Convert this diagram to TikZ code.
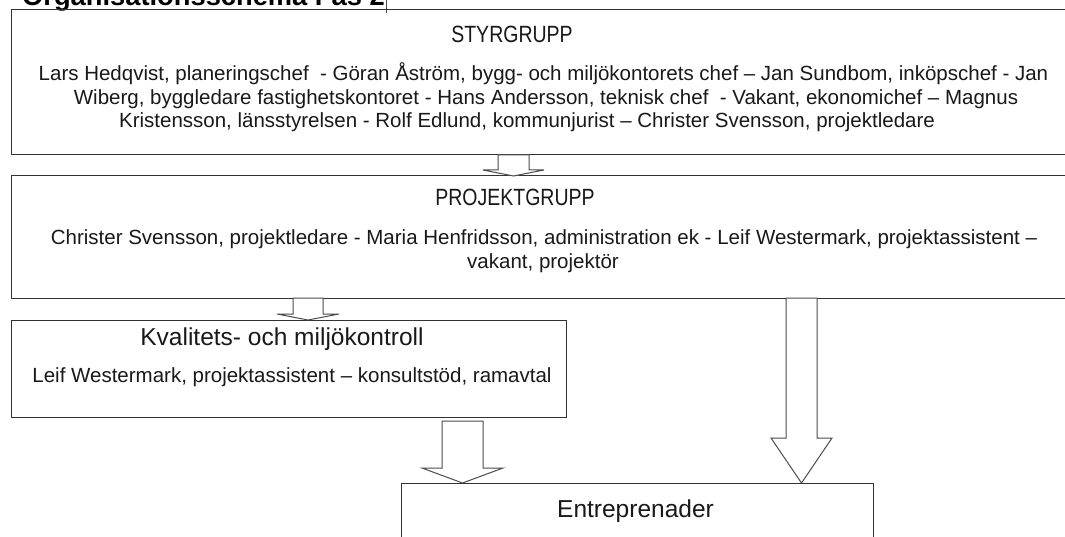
\documentclass[tikz,border=0pt]{standalone}
\usepackage{fontspec}
\setmainfont{Liberation Sans}
\newfontfamily\narrowsans[FakeStretch=0.83]{Liberation Sans}
\usetikzlibrary{calc}
\tikzset{
  box/.style={draw=black!80, line width=1pt, fill=none, inner sep=0pt, outer sep=0pt, anchor=north west},
  barrow/.style={draw=black!70, line width=1pt, fill=white, line join=miter},
  head/.style={anchor=base, text=black!90, font=\narrowsans\fontsize{23.5}{26}\selectfont},
  bighead/.style={anchor=base, text=black!90, font=\fontsize{24.5}{28}\selectfont},
  body/.style={anchor=base, text=black!90, font=\fontsize{20.5}{24}\selectfont},
}
% #1 source node, #2 target node, #3 x centre, #4 half shaft, #5 half head, #6 head length, #7 gap below source
\newcommand\blockarr[7]{%
  \draw[barrow] let \p1=(#1.south), \p2=(#2.north) in
    (#3pt-#4pt,\y1-#7pt) -- (#3pt+#4pt,\y1-#7pt) -- (#3pt+#4pt,\y2+#6pt) -- (#3pt+#5pt,\y2+#6pt)
    -- (#3pt,\y2) -- (#3pt-#5pt,\y2+#6pt) -- (#3pt-#4pt,\y2+#6pt) -- cycle;}
\begin{document}
\begin{tikzpicture}[x=1pt,y=-1pt]
\useasboundingbox (0,0) rectangle (1065,537);
\clip (0,0) rectangle (1065,537);
\fill[white] (0,0) rectangle (1065,537);

% title (cut off at the top, as in the reference)
\node[anchor=base, text=black, font=\bfseries\fontsize{27.3}{30}\selectfont] (title) at (203.5,5.5) {Organisationsschema Fas 2};
\draw[black!70, line width=0.8pt] (386,0) -- (386,13);

% boxes
\node[box, minimum width=1090pt, minimum height=145pt] (styr) at (11,10) {};
\node[box, minimum width=1090pt, minimum height=122pt] (proj) at (11,176) {};
\node[box, minimum width=555pt, minimum height=97pt] (kval) at (11,320) {};
\node[box, minimum width=472pt, minimum height=120pt] (entr) at (401,483) {};

% STYRGRUPP
\node[head] (styrh) at (512,43) {STYRGRUPP};
\node[body] (styr1) at (543.5,81) {Lars Hedqvist, planeringschef\ \ - Göran Åström, bygg- och miljökontorets chef – Jan Sundbom, inköpschef - Jan};
\node[body] (styr2) at (546,105) {Wiberg, byggledare fastighetskontoret - Hans Andersson, teknisk chef\ \ - Vakant, ekonomichef – Magnus};
\node[body] (styr3) at (527,128) {Kristensson, länsstyrelsen - Rolf Edlund, kommunjurist – Christer Svensson, projektledare};

% PROJEKTGRUPP
\node[head] (projh) at (515,206) {PROJEKTGRUPP};
\node[body] (proj1) at (544,245) {Christer Svensson, projektledare - Maria Henfridsson, administration ek - Leif Westermark, projektassistent –};
\node[body] (proj2) at (543,269) {vakant, projektör};

% Kvalitets- och miljökontroll
\node[bighead] (kvalh) at (282,345) {Kvalitets- och miljökontroll};
\node[body] (kval1) at (292,382) {Leif Westermark, projektassistent – konsultstöd, ramavtal};

% Entreprenader
\node[bighead] (entrh) at (635.5,517) {Entreprenader};

% block arrows
\blockarr{styr}{proj}{513.5}{15.5}{30.5}{6}{0}
\blockarr{proj}{kval}{308}{15}{31}{6}{0}
\blockarr{kval}{entr}{462.5}{20.5}{40.5}{15}{4}
\blockarr{proj}{entr}{801.5}{15.5}{30.5}{45}{0}
\end{tikzpicture}
\end{document}
